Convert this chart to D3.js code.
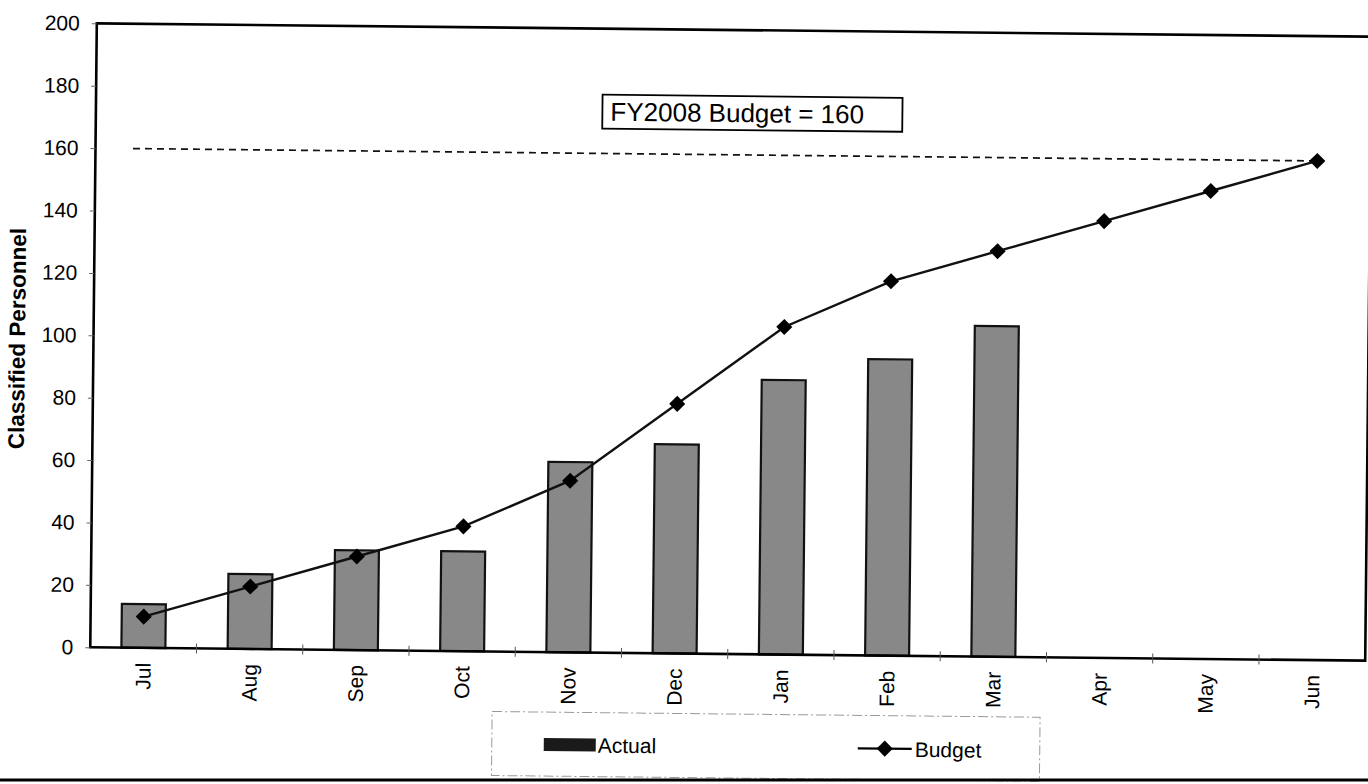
<!DOCTYPE html>
<html>
<head>
<meta charset="utf-8">
<script src="https://cdn.jsdelivr.net/npm/d3@7"></script>
<style>
  html, body { margin: 0; padding: 0; background: #fff; }
  svg { display: block; }
</style>
</head>
<body>
<svg id="chart" width="1368" height="784"></svg>
<script>
// Fiscal-year months
const months = ["Jul", "Aug", "Sep", "Oct", "Nov", "Dec", "Jan", "Feb", "Mar", "Apr", "May", "Jun"];
// Classified personnel actually on board (through March)
const actual = [14, 24, 32, 32, 61, 67, 88, 95, 106];
// Budgeted cumulative classified personnel
const budget = [10, 20, 30, 40, 55, 80, 105, 120, 130, 140, 150, 160];
// Y-axis tick values
const yTicks = [0, 20, 40, 60, 80, 100, 120, 140, 160, 180, 200];
// Full-year budget target
const fyBudget = 160;
const noteText = "FY2008 Budget = 160";
const yTitle = "Classified Personnel";
const legendLabels = ["Actual", "Budget"];

const FONT = "'Liberation Sans', Arial, Helvetica, sans-serif";
const svg = d3.select("#chart");

// whole sheet sits slightly skewed
const sheet = svg.append("g").attr("transform", "rotate(0.6, 731, 342)");

const plot = { left: 93.5, right: 1368.5, top: 30, bottom: 654 };

const x = d3.scaleBand()
  .domain(months)
  .range([plot.left, plot.right])
  .paddingInner(0.586)
  .paddingOuter(0.293);

const y = d3.scaleLinear().domain([0, 200]).range([plot.bottom, plot.top]);

const cx = m => x(m) + x.bandwidth() / 2;

// bars
sheet.append("g").selectAll("rect")
  .data(actual.map((v, i) => ({ m: months[i], v })))
  .join("rect")
  .attr("x", d => x(d.m))
  .attr("y", d => y(d.v))
  .attr("width", x.bandwidth())
  .attr("height", d => y(0) - y(d.v))
  .attr("fill", "#888888")
  .attr("stroke", "#111")
  .attr("stroke-width", 2.2);

// dashed full-year budget reference
sheet.append("line")
  .attr("x1", 131).attr("x2", cx("Jun"))
  .attr("y1", y(fyBudget)).attr("y2", y(fyBudget))
  .attr("stroke", "#111").attr("stroke-width", 1.7)
  .attr("stroke-dasharray", "7,5");

// budget line
const bData = budget.map((v, i) => ({ m: months[i], v }));
sheet.append("path")
  .datum(bData)
  .attr("fill", "none")
  .attr("stroke", "#111")
  .attr("stroke-width", 2.4)
  .attr("d", d3.line().x(d => cx(d.m)).y(d => y(d.v)));

const diamond = d3.symbol().type(d3.symbolDiamond2).size(165);
sheet.append("g").selectAll("path")
  .data(bData)
  .join("path")
  .attr("transform", d => `translate(${cx(d.m)},${y(d.v)})`)
  .attr("d", diamond)
  .attr("fill", "#000");

// plot frame
sheet.append("rect")
  .attr("x", plot.left).attr("y", plot.top)
  .attr("width", plot.right - plot.left).attr("height", plot.bottom - plot.top)
  .attr("fill", "none").attr("stroke", "#000").attr("stroke-width", 2.6);

// y axis
const yAxis = d3.axisLeft(y).tickValues(yTicks).tickSize(5).tickPadding(12);
const yg = sheet.append("g").attr("transform", `translate(${plot.left},0)`).call(yAxis);
yg.select(".domain").remove();
yg.selectAll("line").attr("stroke", "#666").attr("stroke-width", 1);
yg.selectAll("text")
  .attr("font-family", FONT).attr("font-size", 21).attr("fill", "#000");

// x axis: ticks between categories, labels rotated
const xAxis = d3.axisBottom(x).tickSize(0).tickPadding(0);
const xg = sheet.append("g").attr("transform", `translate(0,${plot.bottom})`).call(xAxis);
xg.select(".domain").remove();
xg.selectAll("text")
  .attr("font-family", FONT).attr("font-size", 21).attr("fill", "#000")
  .attr("transform", "translate(0,15) rotate(-90)")
  .attr("text-anchor", "end")
  .attr("dy", "0.35em")
  .attr("y", 0).attr("x", 0);

const step = x.step();
const boundaries = d3.range(1, months.length).map(i => plot.left + step * i);
sheet.append("g").selectAll("line")
  .data(boundaries)
  .join("line")
  .attr("x1", d => d).attr("x2", d => d)
  .attr("y1", plot.bottom - 5).attr("y2", plot.bottom + 5)
  .attr("stroke", "#555").attr("stroke-width", 1);

// y title
sheet.append("text")
  .attr("transform", "translate(25,346) rotate(-90)")
  .attr("text-anchor", "middle")
  .attr("font-family", FONT).attr("font-weight", "bold").attr("font-size", 22.5)
  .attr("fill", "#000")
  .text(yTitle);

// annotation box
const note = sheet.append("g").attr("transform", "translate(600,96)");
note.append("rect")
  .attr("width", 300).attr("height", 34)
  .attr("fill", "#fff").attr("stroke", "#000").attr("stroke-width", 1.8);
note.append("text")
  .attr("x", 8).attr("y", 26)
  .attr("font-family", FONT).attr("font-size", 26).attr("fill", "#000")
  .text(noteText);

// legend
const lg = sheet.append("g").attr("transform", "translate(496,714)");
lg.append("rect")
  .attr("width", 548).attr("height", 64)
  .attr("fill", "#fff").attr("stroke", "#999").attr("stroke-width", 1)
  .attr("stroke-dasharray", "10,3,2,3");
lg.append("rect")
  .attr("x", 52).attr("y", 26).attr("width", 52).attr("height", 13)
  .attr("fill", "#1a1a1a");
lg.append("text")
  .attr("x", 106).attr("y", 40)
  .attr("font-family", FONT).attr("font-size", 21).attr("fill", "#000")
  .text(legendLabels[0]);
lg.append("line")
  .attr("x1", 366).attr("x2", 420).attr("y1", 33).attr("y2", 33)
  .attr("stroke", "#000").attr("stroke-width", 2.4);
lg.append("path")
  .attr("transform", "translate(393,33)")
  .attr("d", diamond)
  .attr("fill", "#000");
lg.append("text")
  .attr("x", 423).attr("y", 41)
  .attr("font-family", FONT).attr("font-size", 21).attr("fill", "#000")
  .text(legendLabels[1]);

// page edge rule
svg.append("line")
  .attr("x1", 0).attr("x2", 1368).attr("y1", 780).attr("y2", 780)
  .attr("stroke", "#000").attr("stroke-width", 3);
</script>
</body>
</html>
